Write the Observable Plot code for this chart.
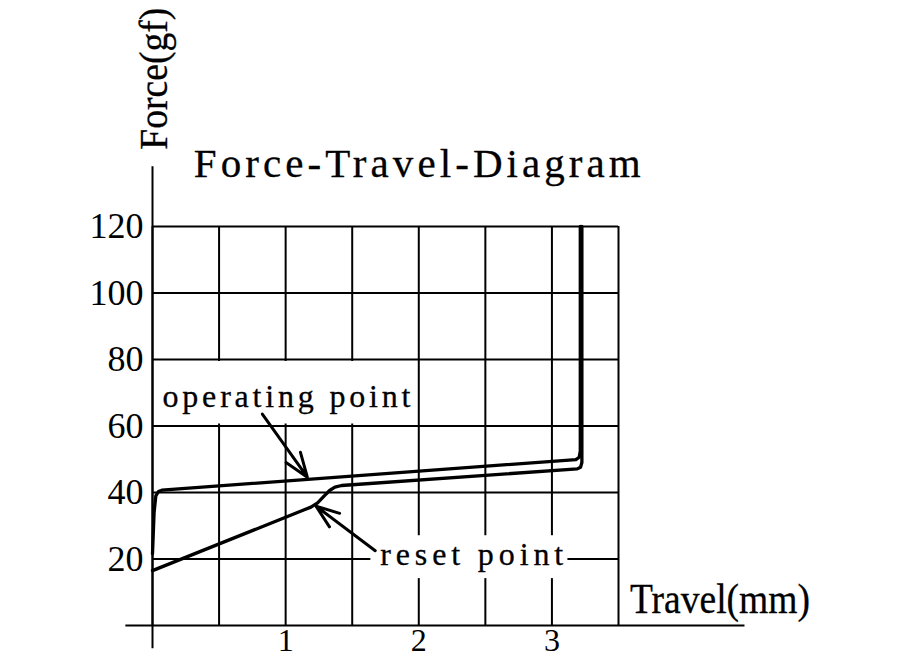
<!DOCTYPE html>
<html><head><meta charset="utf-8">
<script src="https://cdn.jsdelivr.net/npm/d3@7"></script>
<script src="https://cdn.jsdelivr.net/npm/@observablehq/plot@0.6"></script>
<style>body{margin:0;background:#fff} #chart{width:924px;height:660px;overflow:hidden}</style>
</head><body><div id="chart"></div>
<script>
// ---- data ----
const xTicks = [1, 2, 3];
const yTicks = [20, 40, 60, 80, 100, 120];
const xGrid = [0, 0.5, 1, 1.5, 2, 2.5, 3, 3.5];
const axisYExtent = [-7, 138];
const axisXExtent = [-0.2, 4.45];

// pressing stroke (operating curve)
const pressTravel = [0.0, 0.012, 0.025, 0.045, 0.07, 3.18, 3.205, 3.213, 3.213];
const pressForce  = [21.6, 34.0, 39.0, 40.3, 40.7, 49.9, 50.6, 52.5, 120];
// release stroke (reset curve)
const resetTravel = [3.225, 3.225, 3.215, 3.19, 1.42, 1.37, 1.33, 1.29, 1.24, 1.19, 1.14, 0.0];
const resetForce  = [120, 49.0, 47.6, 47.1, 42.1, 41.6, 40.6, 39.0, 36.9, 35.6, 34.8, 16.5];

// annotations
const labelTexts = ["operating point", "reset point"];
const labelTravel = [0.075, 1.71];
const labelForce = [68.7, 21.3];
const arrowFrom = [[0.825, 63.6], [1.673, 22.5]];
const arrowTo = [[1.163, 44.6], [1.228, 35.9]];
// white areas behind the labels [x1, x2, y1, y2]
const masks = [[0.02, 1.98, 60.6, 79.4], [1.64, 3.12, 14.1, 27]];

const titleText = "Force-Travel-Diagram";
const xLabelText = "Travel(mm)";
const yLabelText = "Force(gf)";

// ---- build ----
const press = pressTravel.map((x, i) => ({x, y: pressForce[i]}));
const reset = resetTravel.map((x, i) => ({x, y: resetForce[i]}));
const labels = labelTexts.map((t, i) => ({t, x: labelTravel[i], y: labelForce[i]}));
const arrows = arrowFrom.map((a, i) => ({x1: a[0], y1: a[1], x2: arrowTo[i][0], y2: arrowTo[i][1]}));
const maskRows = masks.map(m => ({x1: m[0], x2: m[1], y1: m[2], y2: m[3]}));

const serif = "Liberation Serif, DejaVu Serif, serif";

const chart = Plot.plot({
  width: 924, height: 660,
  marginLeft: 152, marginRight: 306, marginTop: 226, marginBottom: 35,
  x: {domain: [0, 3.5]},
  y: {domain: [0, 120]},
  style: {background: "white", color: "black", overflow: "visible"},
  marks: [
    Plot.ruleY(yTicks, {x1: 0, x2: 3.5, stroke: "black", strokeWidth: 2}),
    Plot.ruleX(xGrid, {y1: 0, y2: 120, stroke: "black", strokeWidth: 2}),
    Plot.ruleX([0], {y1: axisYExtent[0], y2: axisYExtent[1], stroke: "black", strokeWidth: 2}),
    Plot.ruleY([0], {x1: axisXExtent[0], x2: axisXExtent[1], stroke: "black", strokeWidth: 2.2}),
    Plot.rect(maskRows, {x1: "x1", x2: "x2", y1: "y1", y2: "y2", fill: "white"}),
    Plot.line(press, {x: "x", y: "y", stroke: "black", strokeWidth: 3.3, strokeLinejoin: "round"}),
    Plot.line(reset, {x: "x", y: "y", stroke: "black", strokeWidth: 3.3, strokeLinejoin: "round"}),
    Plot.arrow(arrows, {x1: "x1", y1: "y1", x2: "x2", y2: "y2", stroke: "black", strokeWidth: 3, headLength: 16, headAngle: 40}),
    Plot.axisY(yTicks, {tickSize: 0, tickPadding: 9, fontSize: 36, fontFamily: serif, label: null}),
    Plot.axisX(xTicks, {tickSize: 0, tickPadding: 3, fontSize: 32, fontFamily: serif, label: null, tickFormat: d => String(d)}),
    Plot.text(labels, {x: "x", y: "y", text: "t", textAnchor: "start", fontSize: 32, fontFamily: serif, fill: "black", stroke: "black", strokeWidth: 0.3}),
    Plot.text([titleText], {x: 0.31, y: 138.9, text: d => d, textAnchor: "start", fontSize: 41, fontFamily: serif, fill: "black", stroke: "black", strokeWidth: 0.3}),
    Plot.text([xLabelText], {x: 3.586, y: 7.9, text: d => d, textAnchor: "start", fontSize: 42, fontFamily: serif, fill: "black", stroke: "black", strokeWidth: 0.3}),
    Plot.text([yLabelText], {x: 0, y: 143.1, dx: 2, text: d => d, textAnchor: "start", rotate: -90, fontSize: 40, fontFamily: serif, fill: "black", stroke: "black", strokeWidth: 0.3})
  ]
});

const fits = {
  "Force-Travel-Diagram": [447, "spacing"],
  "Travel(mm)": [180, "spacingAndGlyphs"],
  "Force(gf)": [142, "spacingAndGlyphs"],
  "operating point": [248, "spacing"],
  "reset point": [183, "spacing"]
};
d3.select(chart).selectAll("text").each(function() {
  const f = fits[this.textContent];
  if (f) {
    this.setAttribute("textLength", f[0]);
    this.setAttribute("lengthAdjust", f[1]);
  }
});
document.getElementById("chart").appendChild(chart);
</script>
</body></html>
